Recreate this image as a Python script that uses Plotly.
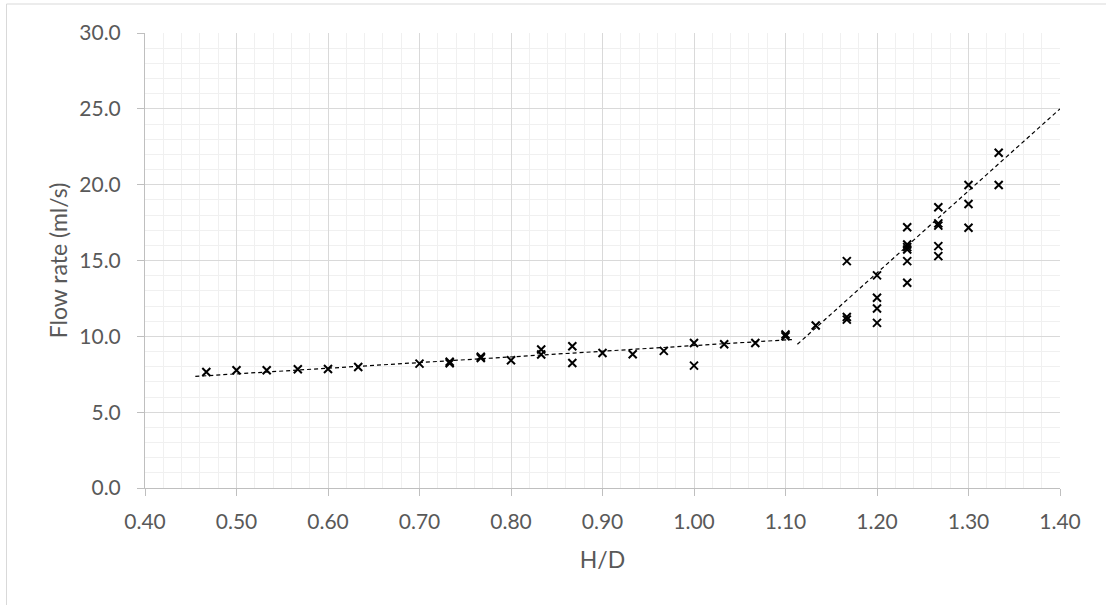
import plotly.graph_objects as go

# ---- data ----
hd = [0.467, 0.500, 0.533, 0.567, 0.600, 0.633, 0.700, 0.733, 0.733, 0.767, 0.767,
      0.800, 0.833, 0.833, 0.867, 0.867, 0.900, 0.933, 0.967, 1.000, 1.000,
      1.033, 1.067, 1.100, 1.100, 1.133,
      1.167, 1.167, 1.167,
      1.200, 1.200, 1.200, 1.200,
      1.233, 1.233, 1.233, 1.233, 1.233, 1.233,
      1.267, 1.267, 1.267, 1.267, 1.267,
      1.300, 1.300, 1.300,
      1.333, 1.333]
flow = [7.65, 7.76, 7.76, 7.83, 7.85, 7.98, 8.20, 8.22, 8.32, 8.57, 8.65,
        8.42, 9.13, 8.80, 9.35, 8.24, 8.90, 8.82, 9.04, 9.56, 8.07,
        9.48, 9.56, 10.00, 10.12, 10.71,
        14.96, 11.10, 11.28,
        14.02, 12.54, 11.84, 10.89,
        17.19, 16.06, 15.88, 15.72, 14.96, 13.53,
        18.51, 17.45, 17.30, 15.95, 15.29,
        19.98, 18.73, 17.16,
        22.11, 19.98]

# trendlines (linear)
trend1_x = [0.455, 1.107]
trend1_coef = [3.73, 5.66]      # slope, intercept
trend2_x = [1.113, 1.400]
trend2_coef = [54.1, -50.74]

x_ticks = [0.40, 0.50, 0.60, 0.70, 0.80, 0.90, 1.00, 1.10, 1.20, 1.30, 1.40]
y_ticks = [0, 5, 10, 15, 20, 25, 30]

FONT = "Lato"
TXT = "#595959"

fig = go.Figure()

for tx, (m, b) in [(trend1_x, trend1_coef), (trend2_x, trend2_coef)]:
    fig.add_trace(go.Scatter(
        x=tx, y=[m * v + b for v in tx], mode="lines",
        line=dict(color="black", width=1.2, dash="4px,3px"),
        hoverinfo="skip", showlegend=False))

fig.add_trace(go.Scatter(
    x=hd, y=flow, mode="markers",
    marker=dict(symbol="x-thin", size=8, color="black",
                line=dict(color="black", width=2)),
    showlegend=False))

fig.update_layout(
    width=1106, height=605,
    margin=dict(l=145, r=46, t=33, b=117),
    paper_bgcolor="white", plot_bgcolor="white",
    font=dict(family=FONT, size=21, color=TXT),
    showlegend=False,
    xaxis=dict(
        range=[0.4, 1.4], tickvals=x_ticks,
        ticktext=[f"{v:.2f}" for v in x_ticks],
        showgrid=True, gridcolor="#d9d9d9", gridwidth=1,
        minor=dict(dtick=0.02, showgrid=True, gridcolor="#f0f0f0", gridwidth=1),
        showline=True, linecolor="#bfbfbf", linewidth=1,
        ticks="outside", ticklen=7, tickcolor="#bfbfbf",
        ticklabelstandoff=8,
        zeroline=False,
        title=dict(text="H/D", font=dict(family=FONT, size=23, color=TXT), standoff=19),
        tickfont=dict(family=FONT, size=21, color=TXT),
    ),
    yaxis=dict(
        range=[0, 30], tickvals=y_ticks,
        ticktext=[f"{v:.1f}" for v in y_ticks],
        showgrid=True, gridcolor="#d9d9d9", gridwidth=1,
        minor=dict(dtick=1, showgrid=True, gridcolor="#f0f0f0", gridwidth=1),
        showline=True, linecolor="#bfbfbf", linewidth=1,
        ticks="outside", ticklen=7, tickcolor="#bfbfbf",
        ticklabelstandoff=12,
        zeroline=False,
        title=dict(text="Flow rate (ml/s)", font=dict(family=FONT, size=23, color=TXT), standoff=5),
        tickfont=dict(family=FONT, size=21, color=TXT),
    ),
    shapes=[dict(type="rect", xref="paper", yref="paper",
                 x0=(6.5 - 145) / 915, x1=(1112 - 145) / 915,
                 y0=(488 - 612) / 455, y1=(488 - 4) / 455,
                 line=dict(color="#d9d9d9", width=1), layer="below")],
)

fig.write_html("out.html", config={"displayModeBar": False},
               post_script="document.body.style.margin='0px';")
